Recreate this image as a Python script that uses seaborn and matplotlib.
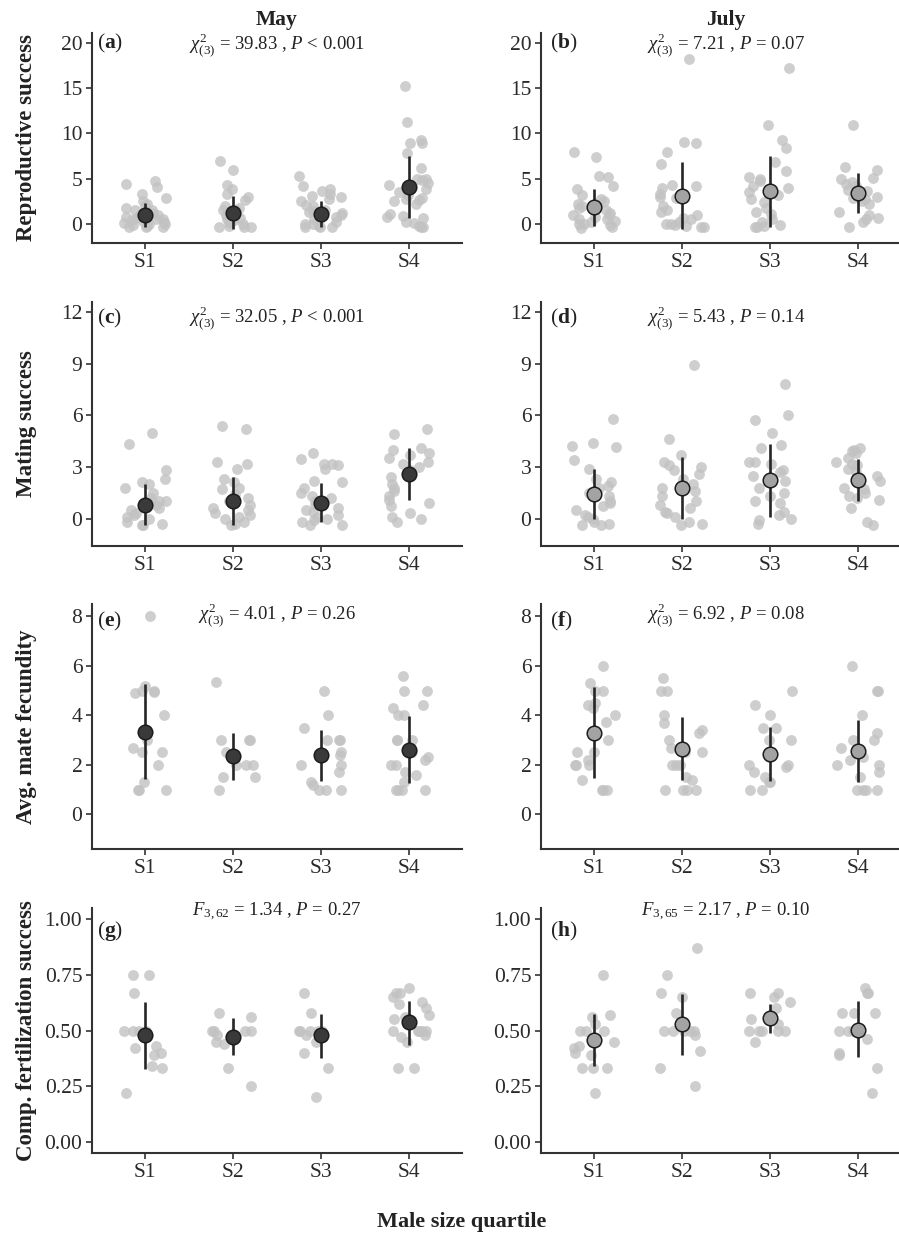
import numpy as np
import pandas as pd
import seaborn as sns
import matplotlib.pyplot as plt
import matplotlib.transforms as mtransforms

quartiles = ['S1', 'S2', 'S3', 'S4']

# (a) May - reproductive success
may_rs = [
    [4.4, 4.1, 3.3, 4.7, 2.9, 2.2, 2.0, 1.8, 1.5, 1.3, 1.2, 1.0, 1.0, 0.8, 0.7, 0.5, 0.4, 0.3, 0.2, 0.1, 0.0, 0.0, -0.1, -0.2, -0.3, -0.3, -0.3, 0.6, 1.6, 2.5],
    [7.0, 6.0, 4.3, 3.9, 3.3, 3.0, 2.7, 2.0, 1.6, 1.5, 1.2, 1.0, 0.7, 0.5, 0.3, 0.0, -0.2, -0.3, -0.3, -0.3, 0.1, 0.9, 1.8, 0.4, 0.2],
    [5.3, 4.2, 3.9, 3.6, 3.3, 3.0, 2.8, 2.5, 2.0, 1.5, 1.3, 1.2, 1.0, 0.8, 0.5, 0.2, 0.0, 0.0, -0.2, -0.3, -0.3, -0.3, 0.6, 1.4, 3.1, 2.1],
    [15.3, 11.3, 9.3, 9.0, 8.9, 7.8, 6.2, 5.0, 5.0, 4.9, 4.5, 4.3, 3.9, 3.5, 3.2, 2.9, 2.7, 2.5, 2.2, 1.1, 0.9, 0.7, 0.2, 0.1, -0.2, -0.3, -0.3, 0.8, 2.8, 3.7],
]
may_rs_mean = [0.95, 1.25, 1.1, 4.1]
may_rs_lo = [-0.35, -0.55, -0.35, 0.65]
may_rs_hi = [2.3, 3.1, 2.55, 7.5]

# (b) July - reproductive success
jul_rs = [
    [7.9, 7.4, 5.3, 5.2, 4.2, 3.9, 3.2, 2.8, 2.2, 2.0, 2.0, 1.8, 1.5, 1.2, 1.0, 0.8, 0.5, 0.3, 0.0, 0.0, -0.1, -0.3, -0.4, 0.2, 2.5, 1.0, 0.6],
    [18.2, 9.0, 9.1, 7.9, 6.6, 4.3, 4.2, 4.0, 3.3, 2.9, 2.0, 1.6, 1.3, 0.7, 0.5, 0.2, 0.0, -0.1, -0.2, -0.3, -0.3, 0.0, 3.0, 1.0],
    [17.2, 10.9, 9.3, 8.4, 6.8, 5.9, 5.2, 5.0, 4.8, 4.2, 4.0, 3.5, 3.2, 2.8, 2.4, 1.8, 1.3, 1.1, 0.6, 0.2, -0.1, -0.3, -0.3, -0.2],
    [10.9, 6.3, 6.0, 5.1, 5.0, 4.6, 4.4, 4.2, 3.8, 3.3, 3.0, 2.9, 2.8, 2.5, 2.2, 1.3, 1.0, 0.7, 0.2, -0.3, 0.5, 3.6],
]
jul_rs_mean = [1.85, 3.05, 3.6, 3.4]
jul_rs_lo = [-0.25, -0.6, -0.35, 1.2]
jul_rs_hi = [3.85, 6.8, 7.5, 5.6]

# (c) May - mating success
may_ms = [
    [4.95, 4.35, 2.8, 2.3, 2.1, 2.0, 1.8, 1.0, 1.0, 0.9, 0.8, 0.5, 0.3, 0.2, 0.0, -0.2, -0.3, -0.4, -0.35, 0.1, 1.5, 0.6, 1.2],
    [5.4, 5.2, 3.3, 3.2, 2.9, 2.3, 2.1, 1.8, 1.7, 1.2, 1.0, 0.8, 0.5, 0.3, 0.1, 0.0, -0.2, -0.3, -0.4, 0.2, 0.6, 1.4],
    [3.8, 3.45, 3.2, 3.15, 3.1, 2.9, 2.2, 2.1, 1.8, 1.5, 1.2, 1.0, 0.8, 0.6, 0.4, 0.2, 0.0, -0.1, -0.2, -0.35, -0.4, 0.1, 0.5, 1.3],
    [5.2, 4.9, 4.1, 4.0, 3.8, 3.7, 3.5, 3.3, 3.2, 3.0, 2.8, 2.4, 2.0, 1.8, 1.6, 1.3, 1.1, 0.9, 0.7, 0.3, 0.1, -0.2, 0.0],
]
may_ms_mean = [0.8, 1.03, 0.9, 2.59]
may_ms_lo = [-0.4, -0.4, -0.2, 1.07]
may_ms_hi = [2.0, 2.43, 2.05, 4.09]

# (d) July - mating success
jul_ms = [
    [5.8, 4.4, 4.2, 4.15, 3.4, 2.9, 2.3, 2.1, 1.9, 1.8, 1.5, 1.3, 1.0, 0.9, 0.7, 0.5, 0.2, 0.0, -0.2, -0.3, -0.4, -0.35, 0.1],
    [8.95, 4.65, 3.7, 3.3, 3.1, 3.0, 2.8, 2.6, 2.3, 1.8, 1.6, 1.3, 1.0, 0.8, 0.6, 0.3, 0.1, -0.3, -0.35, -0.2, 2.0, 0.4],
    [7.8, 6.0, 5.75, 4.95, 4.1, 4.3, 3.3, 3.2, 2.8, 2.7, 2.5, 2.2, 1.8, 1.5, 1.3, 1.0, 0.9, 0.4, 0.2, 0.0, -0.1, -0.3, 3.3],
    [4.1, 4.0, 3.9, 3.8, 3.5, 3.3, 3.1, 2.9, 2.7, 2.5, 1.8, 1.7, 1.5, 1.3, 1.2, 1.1, 0.6, -0.2, -0.35, 3.2, 2.2],
]
jul_ms_mean = [1.42, 1.77, 2.26, 2.26]
jul_ms_lo = [-0.04, 0.0, 0.1, 1.03]
jul_ms_hi = [2.88, 3.6, 4.34, 3.47]

# (e) May - avg. mate fecundity
may_fec = [
    [8.0, 5.2, 5.0, 5.0, 4.95, 4.9, 4.0, 3.0, 2.7, 2.5, 2.5, 2.0, 1.3, 1.0, 1.0, 1.0],
    [5.35, 3.0, 3.0, 3.0, 2.5, 2.0, 2.0, 2.0, 1.5, 1.5, 1.0, 2.3],
    [5.0, 4.0, 3.5, 3.0, 3.0, 3.0, 2.5, 2.4, 2.0, 2.0, 1.7, 1.3, 1.2, 1.0, 1.0, 1.0],
    [5.6, 5.0, 5.0, 4.4, 4.3, 4.0, 4.0, 3.0, 3.0, 3.0, 2.5, 2.3, 2.2, 2.0, 2.0, 1.7, 1.6, 1.3, 1.0, 1.0, 1.0, 1.0],
]
may_fec_mean = [3.32, 2.34, 2.38, 2.62]
may_fec_lo = [1.41, 1.4, 1.34, 1.28]
may_fec_hi = [5.27, 3.29, 3.41, 3.96]

# (f) July - avg. mate fecundity
jul_fec = [
    [6.0, 5.3, 5.0, 5.0, 4.5, 4.4, 4.3, 4.0, 3.75, 3.0, 2.5, 2.5, 2.2, 2.0, 2.0, 2.0, 1.4, 1.0, 1.0, 1.0],
    [5.5, 5.0, 5.0, 4.0, 3.7, 3.4, 3.3, 3.0, 2.7, 2.5, 2.5, 2.0, 2.0, 2.0, 1.5, 1.4, 1.0, 1.0, 1.0, 1.0],
    [5.0, 4.4, 4.0, 3.5, 3.5, 3.0, 3.0, 2.3, 2.0, 2.0, 1.9, 1.7, 1.5, 1.3, 1.3, 1.0, 1.0],
    [6.0, 5.0, 5.0, 4.0, 3.3, 3.0, 3.0, 2.7, 2.3, 2.2, 2.0, 2.0, 1.7, 1.5, 1.0, 1.0, 1.0, 1.0],
]
jul_fec_mean = [3.29, 2.65, 2.45, 2.58]
jul_fec_lo = [1.47, 1.37, 1.34, 1.3]
jul_fec_hi = [5.13, 3.92, 3.55, 3.83]

# (g) May - competitive fertilization success
may_cfs = [
    [0.75, 0.75, 0.67, 0.5, 0.5, 0.5, 0.5, 0.43, 0.42, 0.4, 0.39, 0.34, 0.33, 0.22],
    [0.58, 0.56, 0.5, 0.5, 0.5, 0.5, 0.48, 0.45, 0.44, 0.33, 0.25, 0.47],
    [0.67, 0.58, 0.5, 0.5, 0.5, 0.5, 0.5, 0.45, 0.4, 0.33, 0.2, 0.48],
    [0.69, 0.67, 0.67, 0.65, 0.63, 0.62, 0.57, 0.56, 0.55, 0.5, 0.5, 0.5, 0.5, 0.5, 0.48, 0.47, 0.45, 0.33, 0.33, 0.6],
]
may_cfs_mean = [0.479, 0.47, 0.479, 0.536]
may_cfs_lo = [0.325, 0.39, 0.377, 0.437]
may_cfs_hi = [0.629, 0.557, 0.576, 0.633]

# (h) July - competitive fertilization success
jul_cfs = [
    [0.75, 0.57, 0.56, 0.53, 0.5, 0.5, 0.5, 0.45, 0.43, 0.42, 0.4, 0.39, 0.33, 0.33, 0.33, 0.22],
    [0.87, 0.75, 0.67, 0.65, 0.58, 0.5, 0.5, 0.5, 0.5, 0.5, 0.48, 0.41, 0.33, 0.25],
    [0.67, 0.67, 0.65, 0.63, 0.6, 0.55, 0.53, 0.5, 0.5, 0.5, 0.5, 0.5, 0.45],
    [0.69, 0.67, 0.67, 0.58, 0.58, 0.58, 0.5, 0.5, 0.5, 0.46, 0.4, 0.39, 0.33, 0.22],
]
jul_cfs_mean = [0.457, 0.528, 0.554, 0.504]
jul_cfs_lo = [0.341, 0.389, 0.487, 0.382]
jul_cfs_hi = [0.572, 0.666, 0.618, 0.632]

row_labels = ['Reproductive success', 'Mating success', 'Avg. mate fecundity', 'Comp. fertilization success']
panel_letters = ['a', 'b', 'c', 'd', 'e', 'f', 'g', 'h']
stat_texts = [
    r'$\chi^2_{(3)}$ = 39.83 , $P$ < 0.001', r'$\chi^2_{(3)}$ = 7.21 , $P$ = 0.07',
    r'$\chi^2_{(3)}$ = 32.05 , $P$ < 0.001', r'$\chi^2_{(3)}$ = 5.43 , $P$ = 0.14',
    r'$\chi^2_{(3)}$ = 4.01 , $P$ = 0.26', r'$\chi^2_{(3)}$ = 6.92 , $P$ = 0.08',
    r'$F_{3,62}$ = 1.34 , $P$ = 0.27', r'$F_{3,65}$ = 2.17 , $P$ = 0.10',
]
y_ticks = [[0, 5, 10, 15, 20], [0, 3, 6, 9, 12], [0, 2, 4, 6, 8], [0, 0.25, 0.5, 0.75, 1.0]]
y_lims = [(-2.1, 21.1), (-1.6, 12.6), (-1.4, 8.5), (-0.05, 1.05)]

panels = [
    (may_rs, may_rs_mean, may_rs_lo, may_rs_hi), (jul_rs, jul_rs_mean, jul_rs_lo, jul_rs_hi),
    (may_ms, may_ms_mean, may_ms_lo, may_ms_hi), (jul_ms, jul_ms_mean, jul_ms_lo, jul_ms_hi),
    (may_fec, may_fec_mean, may_fec_lo, may_fec_hi), (jul_fec, jul_fec_mean, jul_fec_lo, jul_fec_hi),
    (may_cfs, may_cfs_mean, may_cfs_lo, may_cfs_hi), (jul_cfs, jul_cfs_mean, jul_cfs_lo, jul_cfs_hi),
]

sns.set_theme(style='ticks')
plt.rcParams['font.family'] = ['Liberation Serif', 'DejaVu Serif']
plt.rcParams['mathtext.fontset'] = 'custom'
plt.rcParams['mathtext.rm'] = 'Liberation Serif'
plt.rcParams['mathtext.it'] = 'Liberation Serif:italic'
plt.rcParams['mathtext.bf'] = 'Liberation Serif:bold'

np.random.seed(7)

W, H = 899, 1236
fig = plt.figure(figsize=(W / 100, H / 100), dpi=100)
col_left = [92, 541]
rows_px = [(33, 243), (302, 546), (604, 849), (908, 1153)]
stat_y = [0.943, 0.934, 0.955, 0.984]
lab_y = [0.95, 0.934, 0.93, 0.906]
axis_col = '#333333'
txt_col = '#222222'

for i, (groups, means, lo, hi) in enumerate(panels):
    r, c = divmod(i, 2)
    top, bot = rows_px[r]
    ax = fig.add_axes([col_left[c] / W, 1 - bot / H, 370 / W, (bot - top) / H])

    df = pd.DataFrame({
        'quartile': np.repeat(quartiles, [len(g) for g in groups]),
        'value': np.concatenate(groups),
    })
    sns.stripplot(data=df, x='quartile', y='value', order=quartiles, jitter=0.25,
                  color='#c2c2c2', size=7.8, alpha=0.8, linewidth=0, ax=ax, zorder=1)
    ax.vlines(range(4), lo, hi, color='#262626', lw=1.9, zorder=3)
    mdf = pd.DataFrame({'quartile': quartiles, 'value': means})
    face = '#3a3a3a' if c == 0 else '#a3a3a3'
    sns.pointplot(data=mdf, x='quartile', y='value', order=quartiles, errorbar=None,
                  linestyle='none', marker='o', color=face, markersize=10.5,
                  markeredgecolor='#1c1c1c', markeredgewidth=1.1, ax=ax, zorder=4)

    ax.set_xlim(-0.6, 3.6)
    ax.set_ylim(*y_lims[r])
    ax.set_yticks(y_ticks[r])
    if r == 3:
        ax.set_yticklabels(['0.00', '0.25', '0.50', '0.75', '1.00'])
    ax.set_xlabel('')
    ax.set_ylabel('')
    sns.despine(ax=ax)
    for s in ['left', 'bottom']:
        ax.spines[s].set_color(axis_col)
        ax.spines[s].set_linewidth(1.5)
    ax.tick_params(axis='both', direction='out', length=4, width=1.2, color=axis_col,
                   labelsize=15.5, labelcolor='#2a2a2a', pad=3)

    trans = mtransforms.blended_transform_factory(ax.transData, ax.transAxes)
    ax.text(1.5, stat_y[r], stat_texts[i], transform=trans, ha='center', va='center',
            fontsize=13.5, color=txt_col)
    lx = 0.014 if c == 0 else 0.024
    ax.text(lx, lab_y[r], '(' + r'$\mathbf{' + panel_letters[i] + '}$' + ')',
            transform=ax.transAxes, ha='left', va='center', fontsize=15.5, color=txt_col)

    if c == 0:
        fig.text(27 / W, 1 - (top + bot) / 2 / H, row_labels[r], rotation=90,
                 ha='center', va='center', fontsize=16.5, fontweight='bold', color=txt_col)

fig.text(277 / W, 1 - 20 / H, 'May', ha='center', va='center', fontsize=15.5,
         fontweight='bold', color=txt_col)
fig.text(726 / W, 1 - 20 / H, 'July', ha='center', va='center', fontsize=15.5,
         fontweight='bold', color=txt_col)
fig.text(462 / W, 1 - 1222 / H, 'Male size quartile', ha='center', va='center',
         fontsize=16, fontweight='bold', color=txt_col)

fig.savefig('out.png', dpi=100)
